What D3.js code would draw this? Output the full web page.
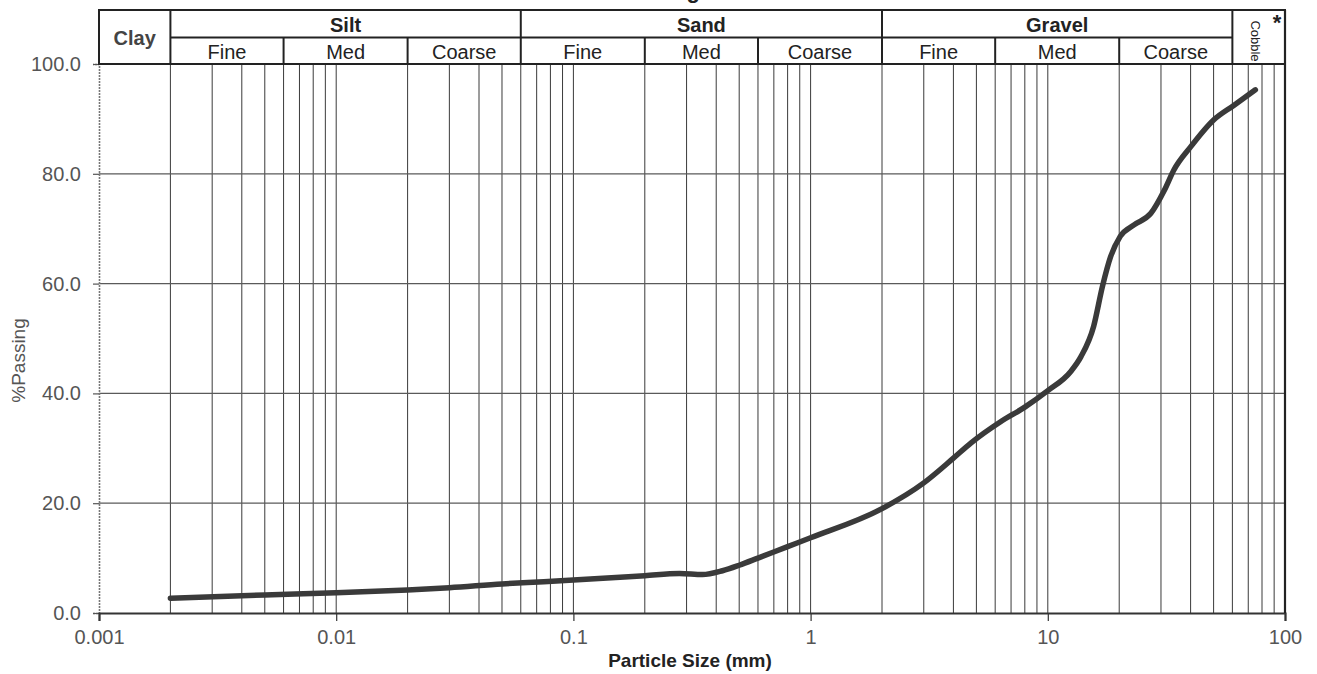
<!DOCTYPE html>
<html>
<head>
<meta charset="utf-8">
<script src="https://cdn.jsdelivr.net/npm/d3@7"></script>
<style>
  html, body { margin: 0; padding: 0; background: #fff; }
  svg { display: block; font-family: "Liberation Sans", Arial, sans-serif; }
</style>
</head>
<body>
<svg id="chart" width="1317" height="674"></svg>
<script>
// ---- data ----
const sizes   = [0.002, 0.005, 0.01, 0.02, 0.03, 0.05, 0.075, 0.1, 0.2, 0.28, 0.35, 0.425, 0.5, 0.6, 0.8, 1.0, 2.0, 3.0, 4.0, 4.75, 6.3, 8.0, 10.0, 12.5, 13.8, 15.6, 17.0, 18.4, 20.2, 23.1, 27.2, 31.0, 34.0, 40.0, 50.0, 61.0, 75.0];
const passing = [2.7,   3.3,   3.7,  4.2,  4.6,  5.3,  5.7,   6.0, 6.8, 7.2,  7.0,  7.7,   8.7, 10.0, 12.1, 13.7, 19.0, 23.7, 28.2, 31.0, 34.8, 37.5, 40.5, 44.0, 46.7, 52.2, 59.5, 64.9, 68.6, 70.7, 72.8, 77.0, 80.7, 84.9, 89.8, 92.5, 95.3];

const yTickValues = [0, 20, 40, 60, 80, 100];
const xTickValues = [0.001, 0.01, 0.1, 1, 10, 100];
const xTickLabels = ["0.001", "0.01", "0.1", "1", "10", "100"];

const groupNames  = ["Clay", "Silt", "Sand", "Gravel"];
const groupBounds = [[0.001, 0.002], [0.002, 0.06], [0.06, 2], [2, 60]];
const cobbleBounds = [60, 100];
const subNames  = ["Fine", "Med", "Coarse"];
const subBounds = [
  [[0.002, 0.006], [0.006, 0.02], [0.02, 0.06]],
  [[0.06, 0.2], [0.2, 0.6], [0.6, 2]],
  [[2, 6], [6, 20], [20, 60]]
];
const gridMultipliers = [1, 2, 3, 4, 5, 6, 7, 8, 9];
const gridDecades = [0.001, 0.01, 0.1, 1, 10];

// ---- layout ----
const svg = d3.select("#chart");
const X0 = 99, X1 = 1285, YTOP = 64, YBOT = 613;
const HTOP = 10, HMID = 37.5;
const x = d3.scaleLog().domain([0.001, 100]).range([X0, X1]);
const y = d3.scaleLinear().domain([0, 100]).range([YBOT, YTOP]);
const FONT = '"Liberation Sans", Arial, sans-serif';

svg.append("rect").attr("width", 1317).attr("height", 674).attr("fill", "#fff");

// partially visible title at top (cut off in the original)
svg.append("text")
  .attr("x", 700).attr("y", -2)
  .attr("text-anchor", "end")
  .attr("font-size", 22).attr("font-weight", "bold").attr("fill", "#222")
  .text("Grading");

// vertical grid lines
const gridVals = [];
gridDecades.forEach(d => gridMultipliers.forEach(m => {
  const v = +(d * m).toPrecision(3);
  if (v > 0.0015 && v < 100) gridVals.push(v);
}));
svg.append("g").selectAll("line").data(gridVals).join("line")
  .attr("x1", d => x(d)).attr("x2", d => x(d))
  .attr("y1", YTOP).attr("y2", YBOT)
  .attr("stroke", "#3a3a3a").attr("stroke-width", 1);

// horizontal grid lines
svg.append("g").selectAll("line").data(yTickValues.filter(v => v > 0 && v < 100)).join("line")
  .attr("x1", X0).attr("x2", X1)
  .attr("y1", d => y(d)).attr("y2", d => y(d))
  .attr("stroke", "#5a5a5a").attr("stroke-width", 1.3);

// y axis
const yAxis = svg.append("g").attr("transform", `translate(${X0},0)`)
  .call(d3.axisLeft(y).tickValues(yTickValues).tickFormat(d3.format(".1f")).tickSize(6).tickPadding(12));
yAxis.select(".domain").attr("stroke", "#777").attr("stroke-width", 1.6).attr("stroke-dasharray", "2,1");
yAxis.selectAll(".tick line").attr("stroke", "#555").attr("stroke-width", 1.2);
yAxis.selectAll(".tick text").attr("font-size", 20).attr("fill", "#555").attr("font-family", FONT);

// x axis
const xAxis = svg.append("g").attr("transform", `translate(0,${YBOT})`)
  .call(d3.axisBottom(x).tickValues(xTickValues).tickFormat((d, i) => xTickLabels[i]).tickSize(8).tickPadding(9));
xAxis.select(".domain").attr("stroke", "#333").attr("stroke-width", 2.2);
xAxis.selectAll(".tick line").attr("stroke", "#333").attr("stroke-width", 1.2);
xAxis.selectAll(".tick text").attr("font-size", 20).attr("fill", "#555").attr("font-family", FONT);

// right border
svg.append("line").attr("x1", X1).attr("x2", X1).attr("y1", HTOP).attr("y2", YBOT)
  .attr("stroke", "#222").attr("stroke-width", 2.2);

// axis titles
svg.append("text")
  .attr("transform", `translate(18,${(YTOP + YBOT) / 2 + 22}) rotate(-90)`)
  .attr("text-anchor", "middle").attr("dominant-baseline", "central")
  .attr("font-size", 19).attr("fill", "#555")
  .text("%Passing");
svg.append("text")
  .attr("x", 690).attr("y", 667)
  .attr("text-anchor", "middle")
  .attr("font-size", 19).attr("font-weight", "bold").attr("fill", "#222")
  .text("Particle Size (mm)");

// header table
const hdr = svg.append("g");
const hStroke = "#222";
hdr.append("rect").attr("x", X0).attr("y", HTOP).attr("width", X1 - X0).attr("height", YTOP - HTOP)
  .attr("fill", "none").attr("stroke", hStroke).attr("stroke-width", 2);
groupBounds.forEach(b => {
  hdr.append("line").attr("x1", x(b[1])).attr("x2", x(b[1])).attr("y1", HTOP).attr("y2", YTOP)
    .attr("stroke", hStroke).attr("stroke-width", 2);
});
hdr.append("line").attr("x1", x(0.002)).attr("x2", x(60)).attr("y1", HMID).attr("y2", HMID)
  .attr("stroke", hStroke).attr("stroke-width", 2);
groupNames.forEach((name, i) => {
  const b = groupBounds[i];
  const cx = (x(b[0]) + x(b[1])) / 2;
  if (name === "Clay") {
    hdr.append("text").attr("x", cx).attr("y", 38).attr("text-anchor", "middle")
      .attr("dominant-baseline", "central").attr("font-size", 20).attr("font-weight", "bold")
      .attr("fill", "#444").text(name);
  } else {
    hdr.append("text").attr("x", cx).attr("y", (HTOP + HMID) / 2 + 1).attr("text-anchor", "middle")
      .attr("dominant-baseline", "central").attr("font-size", 20).attr("font-weight", "bold")
      .attr("fill", "#222").text(name);
  }
});
subBounds.forEach(grp => grp.forEach((b, j) => {
  if (j > 0) {
    hdr.append("line").attr("x1", x(b[0])).attr("x2", x(b[0])).attr("y1", HMID).attr("y2", YTOP)
      .attr("stroke", hStroke).attr("stroke-width", 2);
  }
  hdr.append("text").attr("x", (x(b[0]) + x(b[1])) / 2).attr("y", (HMID + YTOP) / 2 + 1)
    .attr("text-anchor", "middle").attr("dominant-baseline", "central")
    .attr("font-size", 20).attr("fill", "#222").text(subNames[j]);
}));
const cobX = (x(cobbleBounds[0]) + x(cobbleBounds[1])) / 2;
hdr.append("text")
  .attr("transform", `translate(${cobX - 3},${(HTOP + YTOP) / 2 + 4}) rotate(90)`)
  .attr("text-anchor", "middle").attr("dominant-baseline", "central")
  .attr("font-size", 13).attr("fill", "#222").text("Cobble");
hdr.append("text").attr("x", x(cobbleBounds[1]) - 8).attr("y", 30)
  .attr("text-anchor", "middle").attr("font-size", 22).attr("font-weight", "bold")
  .attr("fill", "#222").text("*");

// grading curve
const line = d3.line()
  .x((d, i) => x(sizes[i]))
  .y((d, i) => y(passing[i]))
  .curve(d3.curveMonotoneX);
svg.append("path").datum(passing)
  .attr("d", line)
  .attr("fill", "none").attr("stroke", "#3a3a3a").attr("stroke-width", 5.5)
  .attr("stroke-linecap", "round").attr("stroke-linejoin", "round");
</script>
</body>
</html>
